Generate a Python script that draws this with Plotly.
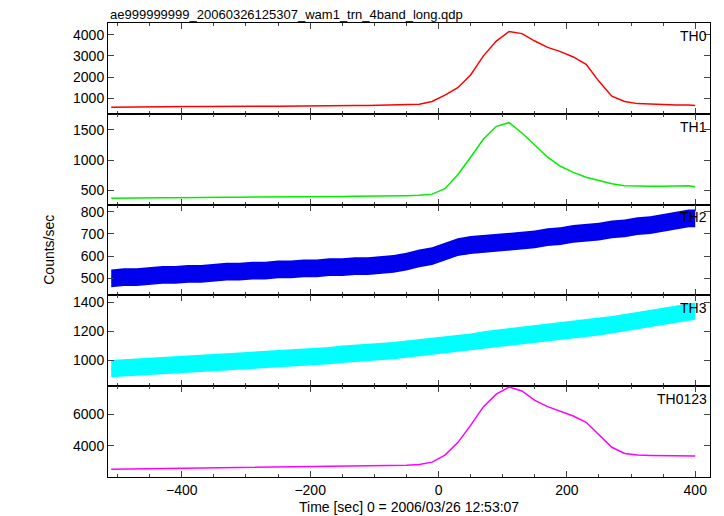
import plotly.graph_objects as go

times = list(range(-510, 391, 20)) + [400]

th0 = [580,590,590,600,600,610,610,610,620,620,620,630,630,630,640,640,640,650,650,660,660,670,680,690,720,850,
       1150,1500,2100,3000,3700,4150,4050,3700,3400,3200,2950,2600,1800,1100,850,750,720,700,690,680,660]
th1 = [370,375,375,380,380,380,385,385,385,390,390,390,390,395,395,395,400,400,400,405,405,410,410,415,420,440,
       530,760,1050,1350,1560,1620,1450,1250,1050,900,800,720,660,610,580,570,570,570,575,580,560]
th2 = [500,505,505,510,515,515,520,520,525,530,530,535,535,540,540,545,545,550,550,555,555,560,565,575,590,600,
       620,640,650,655,660,665,670,675,685,690,700,705,710,720,725,735,740,750,760,770,770]
th2_spread = 40
th3 = [940,945,950,955,960,965,970,975,980,985,990,995,1000,1005,1010,1015,1020,1030,1040,1045,1050,1055,1065,1075,1085,1095,
       1105,1115,1125,1140,1150,1160,1170,1180,1190,1200,1210,1220,1230,1245,1260,1275,1290,1305,1320,1335,1340]
th3_spread = 60
th0123 = [2500,2510,2520,2530,2540,2550,2560,2570,2580,2590,2600,2610,2620,2630,2640,2650,2660,2670,2680,2690,2700,2710,2730,2750,2800,2950,
          3400,4200,5300,6500,7300,7750,7500,6900,6500,6200,5900,5500,4700,3900,3500,3400,3380,3370,3360,3360,3350]

panels = [
    ("TH0", th0, 0, "#ff0000", [270, 4550], [1000, 2000, 3000, 4000]),
    ("TH1", th1, 0, "#00ee00", [267, 1767], [500, 1000, 1500]),
    ("TH2", th2, th2_spread, "#0000ee", [423, 832], [500, 600, 700, 800]),
    ("TH3", th3, th3_spread, "#00ffff", [818, 1449], [1000, 1200, 1400]),
    ("TH0123", th0123, 0, "#ff00ff", [2000, 7806], [4000, 6000]),
]

fig = go.Figure()
n = len(panels)
h = 1.0 / n
annos = []
for i, (name, ys, sp, col, rng, tv) in enumerate(panels):
    k = "" if i == 0 else str(i + 1)
    top = min(1.0, max(0.0, round(1 - i * h, 6)))
    bot = min(1.0, max(0.0, round(1 - (i + 1) * h, 6)))
    if sp:
        fig.add_trace(go.Scatter(x=times, y=[v + sp for v in ys], mode="lines", line=dict(color=col, width=0),
                                 xaxis="x" + k, yaxis="y" + k, showlegend=False, hoverinfo="skip"))
        fig.add_trace(go.Scatter(x=times, y=[v - sp for v in ys], mode="lines", line=dict(color=col, width=0),
                                 fill="tonexty", fillcolor=col, opacity=0.85, xaxis="x" + k, yaxis="y" + k, showlegend=False))
    fig.add_trace(go.Scatter(x=times, y=ys, mode="lines", line=dict(color=col, width=1.5),
                             xaxis="x" + k, yaxis="y" + k, showlegend=False))
    ax = dict(range=[-515, 423], domain=[0, 1], showline=True, mirror="ticks", linecolor="black", linewidth=1,
              ticks="inside", ticklen=6, tickvals=[-400, -200, 0, 200, 400], showgrid=False, zeroline=False,
              anchor="y" + k, showticklabels=(i == n - 1), minor=dict(ticks="inside", ticklen=3, dtick=50))
    if i > 0:
        ax["matches"] = "x"
    ay = dict(range=rng, domain=[bot, top], showline=True, mirror="ticks", linecolor="black", linewidth=1,
              ticks="inside", ticklen=6, tickvals=tv, showgrid=False, zeroline=False, anchor="x" + k)
    fig.layout["xaxis" + k] = ax
    fig.layout["yaxis" + k] = ay
    annos.append(dict(text=name, xref="x" + k + " domain", yref="y" + k + " domain", x=0.998, y=0.97,
                      xanchor="right", yanchor="top", showarrow=False, font=dict(size=14)))

annos += [
    dict(text="ae999999999_20060326125307_wam1_trn_4band_long.qdp", xref="paper", yref="paper",
         x=0, y=1, xanchor="left", yanchor="bottom", yshift=-1, showarrow=False, font=dict(size=13)),
    dict(text="Counts/sec", xref="paper", yref="paper", x=-0.115, y=0.5, textangle=-90,
         showarrow=False, font=dict(size=14)),
    dict(text="Time [sec] 0 = 2006/03/26 12:53:07", xref="paper", yref="paper", x=0.5, y=0,
         yshift=-20, yanchor="top", showarrow=False, font=dict(size=14)),
]

fig.update_layout(
    width=724, height=516, margin=dict(l=100, r=22, t=15, b=47),
    paper_bgcolor="white", plot_bgcolor="white",
    font=dict(family="Liberation Sans, Arial", size=14, color="black"),
    annotations=annos,
)
fig.write_html("out.html")
